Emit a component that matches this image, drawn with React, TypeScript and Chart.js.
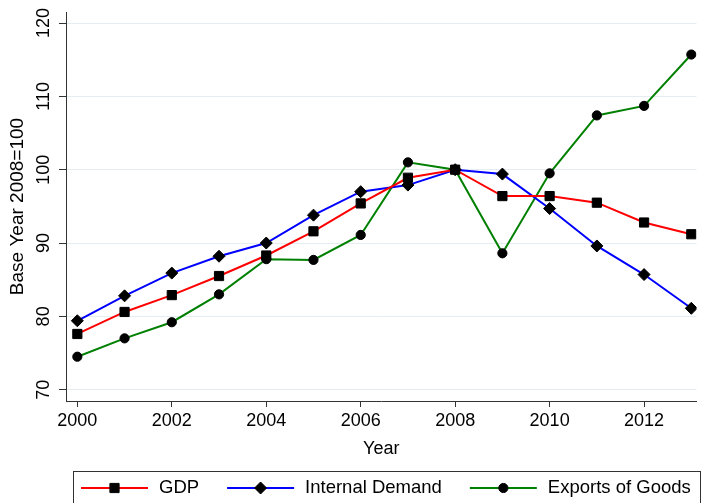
import React, { useEffect, useRef } from 'react';
import { Chart, registerables } from 'chart.js';

Chart.register(...registerables);

const years = [2000, 2001, 2002, 2003, 2004, 2005, 2006, 2007, 2008, 2009, 2010, 2011, 2012, 2013];
const gdp = [77.6, 80.6, 82.9, 85.5, 88.3, 91.6, 95.4, 98.9, 100, 96.4, 96.4, 95.5, 92.8, 91.2];
const internalDemand = [79.4, 82.8, 85.9, 88.2, 90.0, 93.8, 97.0, 97.9, 100, 99.4, 94.7, 89.6, 85.7, 81.1];
const exportsOfGoods = [74.5, 77.0, 79.2, 83.0, 87.8, 87.7, 91.1, 101.0, 100, 88.6, 99.5, 107.4, 108.7, 115.7];

const xTicks = [2000, 2002, 2004, 2006, 2008, 2010, 2012];
const yTicks = [70, 80, 90, 100, 110, 120];

const seriesNames = ['GDP', 'Internal Demand', 'Exports of Goods'];
const seriesColors = ['#ff0000', '#0000ff', '#008000'];
const seriesMarkers = ['rect', 'rectRot', 'circle'];
const seriesRadius = [6.5, 6, 4.6];

const FONT_FAMILY = '"Liberation Sans", Arial, Helvetica, sans-serif';

function drawMarker(ctx: CanvasRenderingContext2D, style: string, x: number, y: number, r: number) {
  ctx.beginPath();
  if (style === 'rect') {
    const s = Math.SQRT1_2 * r;
    ctx.rect(x - s, y - s, 2 * s, 2 * s);
  } else if (style === 'rectRot') {
    ctx.moveTo(x - r, y);
    ctx.lineTo(x, y - r);
    ctx.lineTo(x + r, y);
    ctx.lineTo(x, y + r);
    ctx.closePath();
  } else {
    ctx.arc(x, y, r, 0, Math.PI * 2);
  }
  ctx.fillStyle = '#000';
  ctx.fill();
  ctx.strokeStyle = '#000';
  ctx.lineWidth = 1;
  ctx.stroke();
}

const yLabelPlugin = {
  id: 'yRotatedLabels',
  afterDraw(chart: any) {
    const ctx = chart.ctx as CanvasRenderingContext2D;
    const s = chart.scales.y;
    ctx.save();
    ctx.font = `18px ${FONT_FAMILY}`;
    ctx.fillStyle = '#000';
    ctx.textAlign = 'center';
    ctx.textBaseline = 'middle';
    yTicks.forEach((v) => {
      const py = s.getPixelForValue(v);
      ctx.save();
      ctx.translate(44, py);
      ctx.rotate(-Math.PI / 2);
      ctx.fillText(String(v), 0, 0);
      ctx.restore();
    });
    ctx.restore();
  },
};

const legendPlugin = {
  id: 'boxLegend',
  afterDraw(chart: any) {
    const ctx = chart.ctx as CanvasRenderingContext2D;
    ctx.save();
    ctx.strokeStyle = '#333';
    ctx.lineWidth = 1;
    ctx.strokeRect(73.5, 471.5, 627, 60);
    ctx.font = `18.5px ${FONT_FAMILY}`;
    ctx.textAlign = 'left';
    ctx.textBaseline = 'middle';
    const cy = 488;
    let x = 81;
    seriesNames.forEach((name, i) => {
      const len = 67;
      ctx.strokeStyle = seriesColors[i];
      ctx.lineWidth = 2;
      ctx.beginPath();
      ctx.moveTo(x, cy);
      ctx.lineTo(x + len, cy);
      ctx.stroke();
      drawMarker(ctx, seriesMarkers[i], x + len / 2, cy, seriesRadius[i]);
      const tx = x + len + 11;
      ctx.fillStyle = '#000';
      ctx.fillText(name, tx, cy);
      x = tx + ctx.measureText(name).width + 28;
    });
    ctx.restore();
  },
};

export default function App() {
  const canvasRef = useRef<HTMLCanvasElement | null>(null);

  useEffect(() => {
    if (!canvasRef.current) return;
    const datasets = [gdp, internalDemand, exportsOfGoods].map((vals, i) => ({
      label: seriesNames[i],
      data: years.map((yr, j) => ({ x: yr, y: vals[j] })),
      borderColor: seriesColors[i],
      backgroundColor: seriesColors[i],
      borderWidth: 2,
      pointStyle: seriesMarkers[i] as any,
      pointRadius: seriesRadius[i],
      pointBackgroundColor: '#000',
      pointBorderColor: '#000',
      pointBorderWidth: 1,
      tension: 0,
      fill: false,
    }));

    const chart = new Chart(canvasRef.current, {
      type: 'line',
      data: { datasets },
      plugins: [yLabelPlugin, legendPlugin],
      options: {
        animation: false,
        responsive: false,
        maintainAspectRatio: false,
        layout: { padding: { top: 12, right: 4, bottom: 40, left: 0 } },
        plugins: {
          legend: { display: false },
          tooltip: { enabled: false },
        },
        scales: {
          x: {
            type: 'linear',
            min: 1999.76,
            max: 2013.11,
            afterBuildTicks: (s: any) => {
              s.ticks = xTicks.map((v) => ({ value: v }));
            },
            afterFit: (s: any) => {
              s.height = 62;
            },
            grid: {
              drawOnChartArea: false,
              drawTicks: true,
              tickLength: 6,
              tickColor: '#333',
              tickWidth: 1,
            },
            border: { display: true, color: '#333', width: 1 },
            ticks: {
              autoSkip: false,
              maxRotation: 0,
              minRotation: 0,
              padding: 3,
              color: '#000',
              font: { family: FONT_FAMILY, size: 18 },
              callback: (v: any) => String(v),
            },
            title: {
              display: true,
              text: 'Year',
              color: '#000',
              font: { family: FONT_FAMILY, size: 18 },
              padding: { top: 4, bottom: 3 },
            },
          },
          y: {
            type: 'linear',
            min: 68.46,
            max: 121.5,
            afterBuildTicks: (s: any) => {
              s.ticks = yTicks.map((v) => ({ value: v }));
            },
            afterFit: (s: any) => {
              s.width = 66;
            },
            grid: {
              drawOnChartArea: true,
              color: '#e4edf0',
              lineWidth: 1,
              drawTicks: true,
              tickLength: 7,
              tickColor: '#333',
              tickWidth: 1,
            },
            border: { display: true, color: '#333', width: 1 },
            ticks: { display: false },
            title: {
              display: true,
              text: 'Base Year 2008=100',
              color: '#000',
              font: { family: FONT_FAMILY, size: 19 },
              padding: { top: 6.5, bottom: 0 },
            },
          },
        },
      },
    });
    return () => chart.destroy();
  }, []);

  return (
    <div style={{ position: 'absolute', left: 0, top: 0, width: 704, height: 503, background: '#fff' }}>
      <canvas ref={canvasRef} width={704} height={503} style={{ display: 'block', width: 704, height: 503 }} />
    </div>
  );
}
